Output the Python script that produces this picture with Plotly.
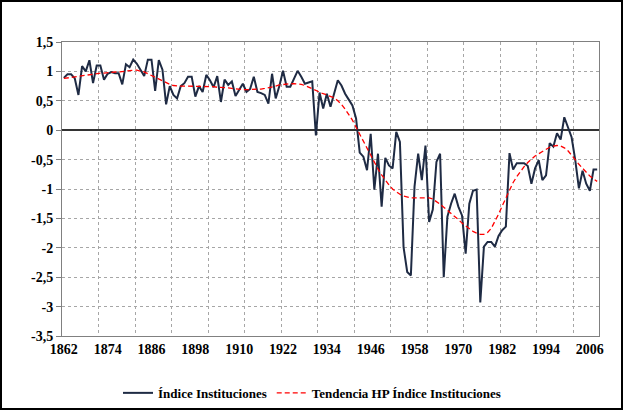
import plotly.graph_objects as go

years = list(range(1862, 2009))

indice = [
    0.89, 0.95, 0.95, 0.88, 0.60, 1.09, 1.00, 1.19, 0.80, 1.10,
    1.10, 0.86, 0.96, 0.99, 0.97, 0.97, 0.78, 1.12, 1.07, 1.20,
    1.13, 1.03, 0.92, 1.20, 1.20, 0.67, 1.19, 1.03, 0.44, 0.75,
    0.60, 0.54, 0.75, 0.80, 0.91, 0.91, 0.57, 0.75, 0.65, 0.94,
    0.85, 0.73, 0.92, 0.48, 0.86, 0.77, 0.83, 0.58, 0.68, 0.79,
    0.65, 0.70, 0.91, 0.65, 0.63, 0.60, 0.45, 0.96, 0.54, 0.75,
    1.01, 0.74, 0.74, 0.88, 1.01, 0.91, 0.79, 0.81, 0.83, -0.09,
    0.64, 0.37, 0.62, 0.40, 0.65, 0.85, 0.76, 0.62, 0.52, 0.42,
    0.20, -0.38, -0.45, -0.68, -0.06, -1.01, -0.40, -1.30, -0.47, -0.60,
    -0.65, -0.03, -0.20, -1.99, -2.41, -2.47, -0.96, -0.40, -0.85, -0.26,
    -1.56, -1.35, -0.54, -0.40, -2.50, -1.47, -1.25, -1.08, -1.30, -1.45,
    -2.10, -1.25, -1.03, -1.01, -2.93, -1.98, -1.90, -1.90, -1.98, -1.80,
    -1.70, -1.64, -0.39, -0.67, -0.56, -0.56, -0.56, -0.61, -0.91, -0.65,
    -0.51, -0.85, -0.77, -0.22, -0.28, -0.05, -0.16, 0.22, 0.05, -0.12,
    -0.51, -0.99, -0.69, -0.91, -1.03, -0.67, -0.67,
]

tendencia = [
    0.88, 0.89, 0.90, 0.91, 0.92, 0.93, 0.94, 0.95, 0.95, 0.96,
    0.97, 0.97, 0.98, 0.98, 0.99, 0.99, 1.00, 1.01, 1.02, 1.02,
    1.02, 1.01, 0.99, 0.96, 0.93, 0.90, 0.86, 0.83, 0.80, 0.78,
    0.76, 0.75, 0.75, 0.75, 0.75, 0.75, 0.75, 0.75, 0.75, 0.75,
    0.74, 0.74, 0.73, 0.73, 0.72, 0.72, 0.71, 0.70, 0.70, 0.69,
    0.69, 0.69, 0.69, 0.69, 0.70, 0.71, 0.72, 0.74, 0.75, 0.77,
    0.78, 0.79, 0.79, 0.79, 0.79, 0.78, 0.76, 0.73, 0.70, 0.67,
    0.64, 0.62, 0.60, 0.58, 0.55, 0.50, 0.44, 0.36, 0.27, 0.17,
    0.05, -0.07, -0.19, -0.31, -0.43, -0.55, -0.66, -0.76, -0.85, -0.93,
    -1.00, -1.05, -1.09, -1.12, -1.14, -1.15, -1.15, -1.15, -1.14, -1.14,
    -1.15, -1.17, -1.21, -1.26, -1.31, -1.36, -1.41, -1.46, -1.52, -1.58,
    -1.63, -1.68, -1.72, -1.75, -1.77, -1.77, -1.74, -1.67, -1.56, -1.43,
    -1.29, -1.15, -1.01, -0.89, -0.79, -0.70, -0.62, -0.55, -0.49, -0.44,
    -0.40, -0.36, -0.32, -0.29, -0.27, -0.26, -0.27, -0.30, -0.35, -0.42,
    -0.50, -0.58, -0.65, -0.72, -0.78, -0.83, -0.87,
]

y_tickvals = [1.5, 1, 0.5, 0, -0.5, -1, -1.5, -2, -2.5, -3, -3.5]
y_ticktext = ["1,5", "1", "0,5", "0", "-0,5", "-1", "-1,5", "-2", "-2,5", "-3", "-3,5"]

W, H = 624, 411
ML, MR, MT, MB = 62, 25, 42, 75
PW, PH = W - ML - MR, H - MT - MB

serif = "'Liberation Serif'"
tick_font = dict(family=serif, size=14, color="black", weight="bold")

fig = go.Figure()
fig.add_trace(go.Scatter(
    x=years, y=indice, mode="lines", name="Índice Instituciones",
    line=dict(color="#1f2b44", width=2),
))
fig.add_trace(go.Scatter(
    x=years, y=tendencia, mode="lines", name="Tendencia HP Índice Instituciones",
    line=dict(color="#ff0000", width=1.3, dash="5px,3px"),
))

fig.update_layout(
    width=W, height=H,
    margin=dict(l=ML, r=MR, t=MT, b=MB),
    paper_bgcolor="white", plot_bgcolor="white",
    font=dict(family=serif, size=14, color="black", weight="bold"),
    showlegend=True,
    legend=dict(
        orientation="h", xref="container", yref="container",
        x=0.5, xanchor="center", y=0.044, yanchor="middle",
        font=dict(family=serif, size=13, color="black", weight="bold"),
        bgcolor="rgba(0,0,0,0)",
    ),
)

fig.update_xaxes(
    range=[1861.5, 2008.5],
    tickmode="linear", tick0=1862, dtick=12,
    tickfont=tick_font,
    showgrid=False, ticks="", zeroline=False,
    showline=True, linecolor="#808080", linewidth=1, mirror=True,
    minor=dict(tickmode="linear", tick0=1861.5, dtick=10, showgrid=True,
               gridcolor="#a6a6a6", griddash="dot", gridwidth=1),
)

fig.update_yaxes(
    range=[-3.5, 1.5],
    tickmode="array", tickvals=y_tickvals, ticktext=y_ticktext,
    tickfont=tick_font,
    showgrid=True, gridcolor="#a6a6a6", griddash="dot", gridwidth=1,
    zeroline=True, zerolinecolor="#333333", zerolinewidth=1.5,
    ticks="outside", ticklen=5, tickcolor="#808080",
    showline=True, linecolor="#808080", linewidth=1, mirror=True,
)

# Chart-area frame around the whole figure
fig.add_shape(
    type="rect", xref="paper", yref="paper",
    x0=(1 - ML) / PW, x1=(W - 2 - ML) / PW,
    y0=(MT + PH - (H - 2)) / PH, y1=(MT + PH - 1) / PH,
    line=dict(color="black", width=2), fillcolor="rgba(0,0,0,0)", layer="below",
)

fig.write_html(
    "out.html",
    config={"displayModeBar": False},
    post_script="document.body.style.margin='0px';document.body.style.padding='0px';",
)
